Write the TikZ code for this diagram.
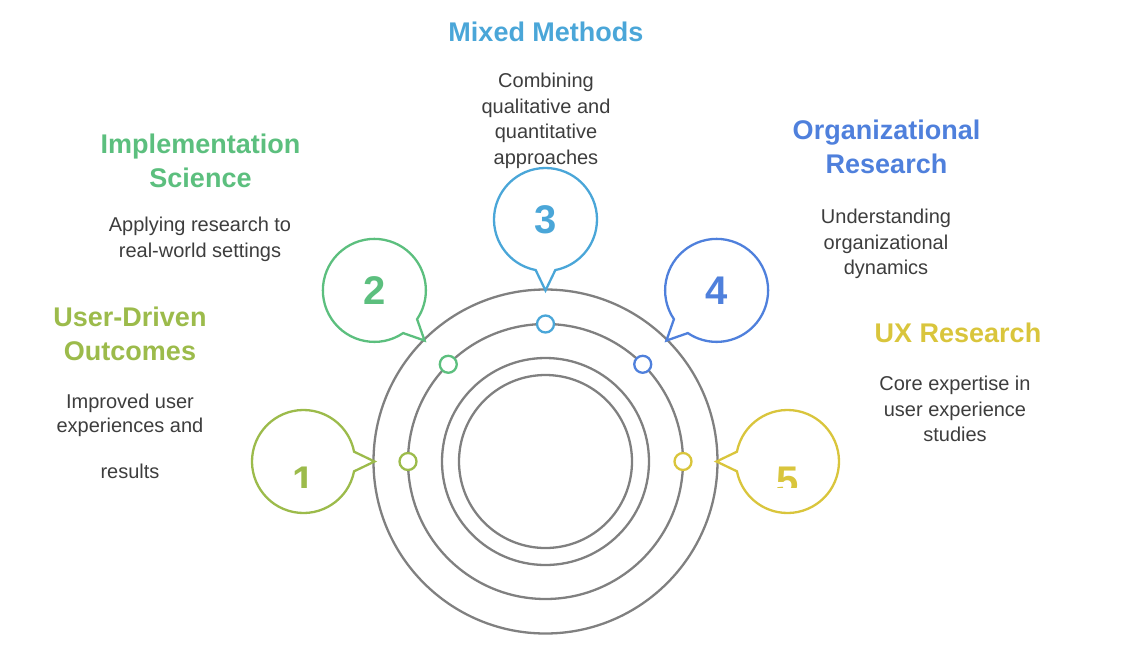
\documentclass[tikz,border=0pt]{standalone}
\usepackage{fontspec}
\setmainfont{Liberation Sans}
\definecolor{cA}{HTML}{9CBB4B}
\definecolor{cB}{HTML}{5CBF7E}
\definecolor{cC}{HTML}{4AA6D8}
\definecolor{cD}{HTML}{4F80DC}
\definecolor{cE}{HTML}{D9C53C}
\definecolor{ringgray}{HTML}{808080}
\definecolor{bodytext}{HTML}{3D3D3D}
\tikzset{
  ring/.style={draw=ringgray, line width=2.3pt},
  bub/.style={line width=2.3pt, fill=white, line join=miter},
  dotc/.style={circle, draw, fill=white, line width=2.3pt, minimum size=17pt, inner sep=0pt},
  digit/.style={font=\bfseries\fontsize{40}{40}\selectfont, inner sep=0pt},
  ttl/.style={font=\bfseries\fontsize{27}{34}\selectfont, align=center, inner sep=0pt, anchor=north},
  bdy/.style={font=\fontsize{20}{25.5}\selectfont, text=bodytext, align=center, inner sep=0pt, anchor=north},
}
\newcommand\mybubble[3]{%
  \coordinate (#3c) at ([shift={(#1:242)}]M);
  \coordinate (#3t) at ([shift={(#1:171)}]M);
  \draw[bub, draw=#2] ([shift={(#1+191:51.5)}]#3c) arc[start angle=#1+191, end angle=#1+529, radius=51.5] -- (#3t) -- cycle;
}
\begin{document}
\begin{tikzpicture}[x=1pt,y=-1pt]
\useasboundingbox (0,0) rectangle (1128,670);
\coordinate (M) at (545.5,461.5);
% rings
\draw[ring] (M) circle[radius=172];
\draw[ring] (M) circle[radius=137.5];
\draw[ring] (M) circle[radius=103.5];
\draw[ring] (M) circle[radius=86.5];
% dots on second ring
\node[dotc, draw=cA] (d1) at ([shift={(180:137.5)}]M) {};
\node[dotc, draw=cB] (d2) at ([shift={(225:137.5)}]M) {};
\node[dotc, draw=cC] (d3) at ([shift={(270:137.5)}]M) {};
\node[dotc, draw=cD] (d4) at ([shift={(315:137.5)}]M) {};
\node[dotc, draw=cE] (d5) at ([shift={(0:137.5)}]M) {};
% bubbles
\mybubble{180}{cA}{b1}
\mybubble{225}{cB}{b2}
\mybubble{270}{cC}{b3}
\mybubble{315}{cD}{b4}
\mybubble{0}{cE}{b5}
\node[digit, text=cB] (n2) at (b2c) {2};
\node[digit, text=cC] (n3) at (b3c) {3};
\node[digit, text=cD] (n4) at (b4c) {4};
\begin{scope}
  \clip (270,440) rectangle (340,487.5);
  \node[digit, text=cA] (n1) at ([yshift=-19.5pt]b1c) {1};
\end{scope}
\begin{scope}
  \clip (750,440) rectangle (830,487.5);
  \node[digit, text=cE] (n5) at ([yshift=-19.5pt]b5c) {5};
\end{scope}
% titles
\node[ttl, text=cA] (t1) at (130,307) {User-Driven\\Outcomes};
\node[ttl, text=cB] (t2) at (200.5,134) {Implementation\\Science};
\node[ttl, text=cC] (t3) at (546,22) {Mixed Methods};
\node[ttl, text=cD] (t4) at (886.5,120) {Organizational\\Research};
\node[ttl, text=cE] (t5) at (958,323) {UX Research};
% bodies
\node[bdy, font=\fontsize{20}{24}\selectfont] (s1) at (130,394) {Improved user\\experiences and\\[22pt]results};
\node[bdy] (s2) at (200,217) {Applying research to\\real-world settings};
\node[bdy] (s3) at (546,73) {Combining\\qualitative and\\quantitative\\approaches};
\node[bdy] (s4) at (886,209) {Understanding\\organizational\\dynamics};
\node[bdy] (s5) at (955,376) {Core expertise in\\user experience\\studies};
\end{tikzpicture}
\end{document}
